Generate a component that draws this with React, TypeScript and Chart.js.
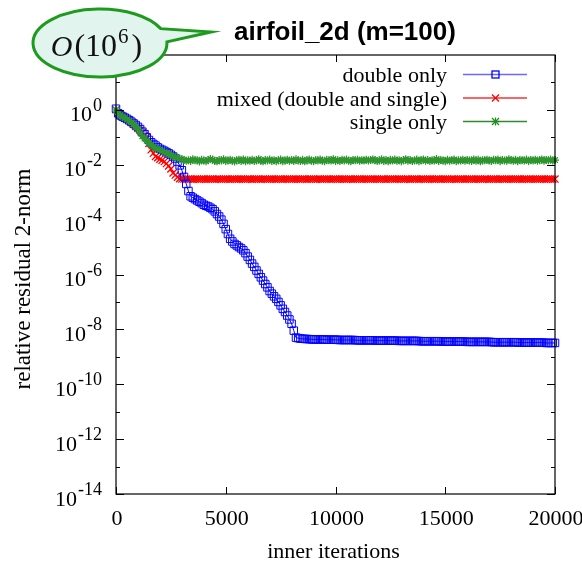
import React, { useEffect, useRef } from 'react';
import { Chart, registerables } from 'chart.js';

Chart.register(...registerables);

// ---------------- data ----------------
const iterations = [
  0, 100, 200, 300, 400, 500, 600, 700, 800, 900,
  1000, 1100, 1200, 1300, 1400, 1500, 1600, 1700, 1800, 1900,
  2000, 2100, 2200, 2300, 2400, 2500, 2600, 2700, 2800, 2900,
  3000, 3100, 3200, 3300, 3400, 3500, 3600, 3700, 3800, 3900,
  4000, 4100, 4200, 4300, 4400, 4500, 4600, 4700, 4800, 4900,
  5000, 5100, 5200, 5300, 5400, 5500, 5600, 5700, 5800, 5900,
  6000, 6100, 6200, 6300, 6400, 6500, 6600, 6700, 6800, 6900,
  7000, 7100, 7200, 7300, 7400, 7500, 7600, 7700, 7800, 7900,
  8000, 8100, 8200, 8300, 8400, 8500, 8600, 8700, 8800, 8900,
  9000, 9100, 9200, 9300, 9400, 9500, 9600, 9700, 9800, 9900,
  10000, 10100, 10200, 10300, 10400, 10500, 10600, 10700, 10800, 10900,
  11000, 11100, 11200, 11300, 11400, 11500, 11600, 11700, 11800, 11900,
  12000, 12100, 12200, 12300, 12400, 12500, 12600, 12700, 12800, 12900,
  13000, 13100, 13200, 13300, 13400, 13500, 13600, 13700, 13800, 13900,
  14000, 14100, 14200, 14300, 14400, 14500, 14600, 14700, 14800, 14900,
  15000, 15100, 15200, 15300, 15400, 15500, 15600, 15700, 15800, 15900,
  16000, 16100, 16200, 16300, 16400, 16500, 16600, 16700, 16800, 16900,
  17000, 17100, 17200, 17300, 17400, 17500, 17600, 17700, 17800, 17900,
  18000, 18100, 18200, 18300, 18400, 18500, 18600, 18700, 18800, 18900,
  19000, 19100, 19200, 19300, 19400, 19500, 19600, 19700, 19800, 19900,
  20000,
];

const doubleOnly = [
  1.1, 0.75, 0.63, 0.57, 0.52, 0.47, 0.42, 0.37, 0.32, 0.28,
  0.24, 0.20, 0.16, 0.13, 0.10, 0.080, 0.066, 0.057, 0.050, 0.043,
  0.038, 0.035, 0.032, 0.029, 0.026, 0.023, 0.020, 0.017, 0.013, 9.5e-3,
  6.3e-3, 3.6e-3, 2.0e-3, 1.1e-3, 7.1e-4, 6.3e-4, 5.6e-4, 5.0e-4, 4.5e-4, 4.0e-4,
  3.5e-4, 3.2e-4, 3.0e-4, 2.7e-4, 2.4e-4, 2.0e-4, 1.6e-4, 1.3e-4, 1.0e-4, 7.0e-5,
  4.5e-5, 3.0e-5, 2.0e-5, 1.6e-5, 1.3e-5, 1.15e-5, 1.0e-5, 8.9e-6, 7.6e-6, 6.0e-6,
  4.5e-6, 3.4e-6, 2.5e-6, 1.9e-6, 1.4e-6, 1.05e-6, 7.9e-7, 6.0e-7, 4.5e-7, 3.4e-7,
  2.5e-7, 2.0e-7, 1.6e-7, 1.3e-7, 1.0e-7, 7.5e-8, 5.6e-8, 4.3e-8, 3.2e-8, 2.3e-8,
  1.6e-8, 9.0e-9, 5.0e-9, 4.8e-9, 4.6e-9, 4.55e-9, 4.5e-9, 4.45e-9, 4.4e-9, 4.35e-9,
  4.3e-9, 4.3e-9, 4.3e-9, 4.3e-9, 4.3e-9, 4.25e-9, 4.2e-9, 4.2e-9, 4.2e-9, 4.2e-9,
  4.2e-9, 4.15e-9, 4.1e-9, 4.1e-9, 4.1e-9, 4.1e-9, 4.1e-9, 4.1e-9, 4.1e-9, 4.05e-9,
  4.0e-9, 4.0e-9, 4.0e-9, 4.0e-9, 4.0e-9, 4.0e-9, 4.0e-9, 4.0e-9, 3.95e-9, 3.9e-9,
  3.9e-9, 3.9e-9, 3.9e-9, 3.9e-9, 3.9e-9, 3.9e-9, 3.9e-9, 3.9e-9, 3.85e-9, 3.8e-9,
  3.8e-9, 3.8e-9, 3.8e-9, 3.8e-9, 3.8e-9, 3.8e-9, 3.8e-9, 3.8e-9, 3.75e-9, 3.7e-9,
  3.7e-9, 3.7e-9, 3.7e-9, 3.7e-9, 3.7e-9, 3.7e-9, 3.7e-9, 3.7e-9, 3.65e-9, 3.6e-9,
  3.6e-9, 3.6e-9, 3.6e-9, 3.6e-9, 3.6e-9, 3.6e-9, 3.6e-9, 3.6e-9, 3.6e-9, 3.55e-9,
  3.5e-9, 3.5e-9, 3.5e-9, 3.5e-9, 3.5e-9, 3.5e-9, 3.5e-9, 3.5e-9, 3.5e-9, 3.5e-9,
  3.5e-9, 3.45e-9, 3.4e-9, 3.4e-9, 3.4e-9, 3.4e-9, 3.4e-9, 3.4e-9, 3.4e-9, 3.4e-9,
  3.4e-9, 3.4e-9, 3.4e-9, 3.35e-9, 3.3e-9, 3.3e-9, 3.3e-9, 3.3e-9, 3.3e-9, 3.3e-9,
  3.3e-9, 3.3e-9, 3.3e-9, 3.3e-9, 3.3e-9, 3.25e-9, 3.2e-9, 3.2e-9, 3.2e-9, 3.2e-9,
  3.2e-9,
];

const mixedPrecision = [
  1.0, 0.75, 0.62, 0.56, 0.50, 0.45, 0.40, 0.35, 0.30, 0.25,
  0.21, 0.18, 0.15, 0.12, 0.10, 0.060, 0.035, 0.026, 0.020, 0.018,
  0.016, 0.0145, 0.013, 0.011, 9.0e-3, 7.0e-3, 5.0e-3, 4.2e-3, 3.5e-3, 3.1e-3,
  3.0e-3, 3.0e-3, 2.98e-3, 3.01e-3, 3.0e-3, 2.99e-3, 3.02e-3, 3.0e-3, 2.98e-3, 3.01e-3,
  3.0e-3, 2.99e-3, 3.01e-3, 3.0e-3, 3.02e-3, 2.98e-3, 3.0e-3, 3.01e-3, 2.99e-3, 3.0e-3,
  3.01e-3, 3.0e-3, 2.98e-3, 3.0e-3, 3.02e-3, 2.99e-3, 3.0e-3, 3.01e-3, 3.0e-3, 2.98e-3,
  3.0e-3, 3.01e-3, 2.99e-3, 3.0e-3, 3.02e-3, 3.0e-3, 2.98e-3, 3.01e-3, 3.0e-3, 2.99e-3,
  3.0e-3, 3.02e-3, 3.0e-3, 2.99e-3, 3.01e-3, 3.0e-3, 2.98e-3, 3.0e-3, 3.01e-3, 3.0e-3,
  2.99e-3, 3.0e-3, 3.02e-3, 3.0e-3, 2.98e-3, 3.01e-3, 3.0e-3, 2.99e-3, 3.0e-3, 3.01e-3,
  3.0e-3, 2.98e-3, 3.0e-3, 3.02e-3, 2.99e-3, 3.0e-3, 3.01e-3, 3.0e-3, 2.98e-3, 3.0e-3,
  3.01e-3, 2.99e-3, 3.0e-3, 3.02e-3, 3.0e-3, 2.98e-3, 3.01e-3, 3.0e-3, 2.99e-3, 3.0e-3,
  3.0e-3, 3.01e-3, 2.99e-3, 3.0e-3, 3.02e-3, 3.0e-3, 2.98e-3, 3.0e-3, 3.01e-3, 3.0e-3,
  2.99e-3, 3.0e-3, 3.01e-3, 2.98e-3, 3.0e-3, 3.02e-3, 3.0e-3, 2.99e-3, 3.01e-3, 3.0e-3,
  3.0e-3, 2.98e-3, 3.01e-3, 3.0e-3, 2.99e-3, 3.0e-3, 3.02e-3, 3.0e-3, 2.98e-3, 3.01e-3,
  3.0e-3, 2.99e-3, 3.0e-3, 3.01e-3, 3.0e-3, 2.98e-3, 3.0e-3, 3.02e-3, 2.99e-3, 3.0e-3,
  3.01e-3, 3.0e-3, 2.98e-3, 3.0e-3, 3.01e-3, 2.99e-3, 3.0e-3, 3.02e-3, 3.0e-3, 2.98e-3,
  3.0e-3, 3.01e-3, 3.0e-3, 2.99e-3, 3.0e-3, 3.02e-3, 3.0e-3, 2.98e-3, 3.01e-3, 3.0e-3,
  2.99e-3, 3.0e-3, 3.01e-3, 3.0e-3, 2.98e-3, 3.0e-3, 3.02e-3, 2.99e-3, 3.0e-3, 3.01e-3,
  3.0e-3, 2.98e-3, 3.0e-3, 3.01e-3, 3.0e-3, 2.99e-3, 3.02e-3, 3.0e-3, 2.98e-3, 3.0e-3,
  3.01e-3, 3.0e-3, 2.99e-3, 3.0e-3, 3.02e-3, 3.0e-3, 2.98e-3, 3.01e-3, 3.0e-3, 2.99e-3,
  3.0e-3,
];

const singleOnly = [
  1.0, 0.75, 0.63, 0.56, 0.50, 0.45, 0.40, 0.35, 0.30, 0.25,
  0.20, 0.15, 0.11, 0.090, 0.076, 0.063, 0.052, 0.046, 0.040, 0.038,
  0.035, 0.032, 0.029, 0.027, 0.024, 0.022, 0.020, 0.019, 0.018, 0.017,
  1.60e-2, 1.50e-2, 1.40e-2, 1.47e-2, 1.36e-2, 1.58e-2, 1.47e-2, 1.45e-2, 1.32e-2, 1.52e-2,
  1.42e-2, 1.35e-2, 1.50e-2, 1.62e-2, 1.54e-2, 1.38e-2, 1.33e-2, 1.49e-2, 1.43e-2, 1.58e-2,
  1.36e-2, 1.44e-2, 1.53e-2, 1.40e-2, 1.32e-2, 1.47e-2, 1.52e-2, 1.38e-2, 1.57e-2, 1.34e-2,
  1.46e-2, 1.41e-2, 1.53e-2, 1.37e-2, 1.44e-2, 1.60e-2, 1.40e-2, 1.33e-2, 1.50e-2, 1.43e-2,
  1.55e-2, 1.38e-2, 1.47e-2, 1.35e-2, 1.46e-2, 1.56e-2, 1.34e-2, 1.44e-2, 1.52e-2, 1.40e-2,
  1.49e-2, 1.36e-2, 1.58e-2, 1.43e-2, 1.38e-2, 1.51e-2, 1.33e-2, 1.46e-2, 1.54e-2, 1.41e-2,
  1.35e-2, 1.49e-2, 1.44e-2, 1.56e-2, 1.40e-2, 1.34e-2, 1.52e-2, 1.46e-2, 1.42e-2, 1.60e-2,
  1.38e-2, 1.47e-2, 1.36e-2, 1.51e-2, 1.44e-2, 1.55e-2, 1.41e-2, 1.35e-2, 1.49e-2, 1.46e-2,
  1.53e-2, 1.39e-2, 1.47e-2, 1.42e-2, 1.52e-2, 1.44e-2, 1.48e-2, 1.57e-2, 1.45e-2, 1.36e-2,
  1.44e-2, 1.58e-2, 1.38e-2, 1.48e-2, 1.33e-2, 1.52e-2, 1.42e-2, 1.55e-2, 1.39e-2, 1.47e-2,
  1.35e-2, 1.46e-2, 1.60e-2, 1.41e-2, 1.50e-2, 1.37e-2, 1.44e-2, 1.54e-2, 1.34e-2, 1.47e-2,
  1.56e-2, 1.39e-2, 1.49e-2, 1.36e-2, 1.46e-2, 1.42e-2, 1.61e-2, 1.38e-2, 1.50e-2, 1.44e-2,
  1.34e-2, 1.52e-2, 1.41e-2, 1.47e-2, 1.55e-2, 1.35e-2, 1.46e-2, 1.42e-2, 1.53e-2, 1.39e-2,
  1.49e-2, 1.44e-2, 1.36e-2, 1.57e-2, 1.41e-2, 1.51e-2, 1.33e-2, 1.47e-2, 1.45e-2, 1.53e-2,
  1.42e-2, 1.38e-2, 1.52e-2, 1.46e-2, 1.56e-2, 1.35e-2, 1.49e-2, 1.44e-2, 1.39e-2, 1.59e-2,
  1.47e-2, 1.41e-2, 1.53e-2, 1.34e-2, 1.50e-2, 1.45e-2, 1.42e-2, 1.55e-2, 1.38e-2, 1.48e-2,
  1.44e-2, 1.52e-2, 1.39e-2, 1.47e-2, 1.57e-2, 1.41e-2, 1.50e-2, 1.45e-2, 1.54e-2, 1.42e-2,
  1.48e-2,
];

const seriesLabels = ['double only', 'mixed (double and single)', 'single only'];
const seriesColors = ['#0000ff', '#ff0000', '#228b22'];
const legendLineColors = ['#6a6aff', '#ff3030', '#2e8b2e'];

const xTickValues = [0, 5000, 10000, 15000, 20000];
const xTickLabels = ['0', '5000', '10000', '15000', '20000'];
const yMajorExponents = [0, -2, -4, -6, -8, -10, -12, -14];
const yMajorLabels = ['0', '-2', '-4', '-6', '-8', '-10', '-12', '-14'];
const yMinorExponents = [1, -1, -3, -5, -7, -9, -11, -13];

const chartTitle = 'airfoil_2d (m=100)';
const xAxisTitle = 'inner iterations';
const yAxisTitle = 'relative residual 2-norm';
const calloutBase = '10';
const calloutExp = '6';

const SERIF = '"Liberation Serif", "Times New Roman", Times, serif';

function toPoints(ys: number[]) {
  return iterations.map((x, i) => ({ x, y: ys[i] }));
}

const decorPlugin = {
  id: 'decor',
  afterDraw(chart: any) {
    const { ctx, chartArea: a, scales } = chart;
    const xs = scales.x;
    const ys = scales.y;
    ctx.save();

    // frame
    ctx.strokeStyle = '#000';
    ctx.lineWidth = 1.2;
    ctx.strokeRect(a.left, a.top, a.right - a.left, a.bottom - a.top);

    const seg = (x1: number, y1: number, x2: number, y2: number) => {
      ctx.beginPath();
      ctx.moveTo(x1, y1);
      ctx.lineTo(x2, y2);
      ctx.stroke();
    };

    // x ticks (bottom & top, inward)
    ctx.lineWidth = 1;
    xTickValues.forEach((v) => {
      const px = Math.round(xs.getPixelForValue(v)) + 0.5;
      seg(px, a.bottom, px, a.bottom - 7);
      seg(px, a.top, px, a.top + 7);
    });
    // y ticks
    yMajorExponents.forEach((e) => {
      const py = Math.round(ys.getPixelForValue(Math.pow(10, e))) + 0.5;
      seg(a.left, py, a.left + 8, py);
      seg(a.right, py, a.right - 8, py);
    });
    yMinorExponents.forEach((e) => {
      const py = Math.round(ys.getPixelForValue(Math.pow(10, e))) + 0.5;
      seg(a.left, py, a.left + 4, py);
      seg(a.right, py, a.right - 4, py);
    });

    ctx.fillStyle = '#000';
    // x tick labels
    ctx.font = `22px ${SERIF}`;
    ctx.textAlign = 'center';
    ctx.textBaseline = 'alphabetic';
    xTickValues.forEach((v, i) => {
      const px = xs.getPixelForValue(v);
      ctx.fillText(xTickLabels[i], px + 1, a.bottom + 31);
    });

    // y tick labels 10^e
    yMajorExponents.forEach((e, i) => {
      const py = ys.getPixelForValue(Math.pow(10, e));
      ctx.font = `18px ${SERIF}`;
      const supW = ctx.measureText(yMajorLabels[i]).width;
      ctx.font = `22px ${SERIF}`;
      const baseW = ctx.measureText('10').width;
      const right = 102;
      ctx.textAlign = 'left';
      ctx.fillText('10', right - supW - baseW - 1, py + 11.5);
      ctx.font = `18px ${SERIF}`;
      ctx.fillText(yMajorLabels[i], right - supW, py + 1);
    });

    // axis titles
    ctx.font = `22px ${SERIF}`;
    ctx.textAlign = 'center';
    ctx.fillText(xAxisTitle, (a.left + a.right) / 2 - 2, 558);
    ctx.save();
    ctx.translate(30, 279);
    ctx.rotate(-Math.PI / 2);
    ctx.font = `23px ${SERIF}`;
    ctx.fillText(yAxisTitle, 0, 0);
    ctx.restore();

    // title
    ctx.font = 'bold 26px "Liberation Sans", Arial, Helvetica, sans-serif';
    ctx.textAlign = 'center';
    ctx.fillText(chartTitle, 345, 40);

    // legend
    const rowY = [74, 97.5, 121];
    ctx.font = `22px ${SERIF}`;
    ctx.textAlign = 'right';
    seriesLabels.forEach((lab, i) => {
      const y = rowY[i];
      ctx.fillStyle = '#000';
      ctx.fillText(lab, 447, y + 8);
      ctx.strokeStyle = legendLineColors[i];
      ctx.lineWidth = i === 0 ? 1.6 : 1.3;
      seg(463, y + 0.5, 527, y + 0.5);
      ctx.strokeStyle = seriesColors[i];
      ctx.lineWidth = 1.3;
      const mx = 495.5, my = y + 0.5, r = 3.5;
      if (i === 0) {
        ctx.strokeRect(mx - r, my - r, 2 * r, 2 * r);
      } else if (i === 1) {
        seg(mx - r, my - r, mx + r, my + r);
        seg(mx - r, my + r, mx + r, my - r);
      } else {
        seg(mx - r, my - r, mx + r, my + r);
        seg(mx - r, my + r, mx + r, my - r);
        seg(mx - r - 0.5, my, mx + r + 0.5, my);
        seg(mx, my - r - 0.5, mx, my + r + 0.5);
      }
    });

    // callout bubble
    const cx = 100, cy = 43, rx = 67, ry = 34;
    const t1 = (-25 * Math.PI) / 180;
    const t2 = (-2 * Math.PI) / 180;
    ctx.beginPath();
    ctx.ellipse(cx, cy, rx, ry, 0, t2, t1 + Math.PI * 2, false);
    ctx.lineTo(211, 32);
    ctx.closePath();
    ctx.fillStyle = '#e1f5ee';
    ctx.fill();
    ctx.strokeStyle = '#1e9b1e';
    ctx.lineWidth = 3;
    ctx.lineJoin = 'miter';
    ctx.stroke();

    // callout text O(10^6)
    ctx.fillStyle = '#111';
    ctx.textAlign = 'left';
    const fO = `italic 30px ${SERIF}`;
    const fN = `32px ${SERIF}`;
    const fS = `21px ${SERIF}`;
    ctx.font = fO; const wO = ctx.measureText('O').width;
    ctx.font = fN; const wP = ctx.measureText('(').width;
    const wB = ctx.measureText(calloutBase).width;
    const wQ = ctx.measureText(')').width;
    ctx.font = fS; const wS = ctx.measureText(calloutExp).width;
    const total = wO + 2 + wP + wB + 1 + wS + 3 + wQ;
    let x = 96.5 - total / 2;
    const base = 56;
    ctx.font = fO; ctx.fillText('O', x, base); x += wO + 2;
    ctx.font = fN; ctx.fillText('(', x, base); x += wP;
    ctx.fillText(calloutBase, x, base); x += wB + 1;
    ctx.font = fS; ctx.fillText(calloutExp, x, base - 13); x += wS + 3;
    ctx.font = fN; ctx.fillText(')', x, base);

    ctx.restore();
  },
};

export default function App() {
  const ref = useRef<HTMLCanvasElement | null>(null);

  useEffect(() => {
    if (!ref.current) return;
    const chart = new Chart(ref.current, {
      type: 'line',
      data: {
        datasets: [
          {
            label: seriesLabels[2],
            data: toPoints(singleOnly),
            borderColor: seriesColors[2],
            borderWidth: 1,
            pointStyle: 'star',
            pointRadius: 4,
            pointBorderColor: '#2f952f',
            pointBackgroundColor: '#2f952f',
            pointBorderWidth: 1.3,
            order: 0,
            clip: false,
          },
          {
            label: seriesLabels[0],
            data: toPoints(doubleOnly),
            borderColor: seriesColors[0],
            borderWidth: 1,
            pointStyle: 'rect',
            pointRadius: 5.3,
            pointBorderColor: seriesColors[0],
            pointBackgroundColor: 'rgba(0,0,0,0)',
            pointBorderWidth: 1,
            order: 1,
            clip: false,
          },
          {
            label: seriesLabels[1],
            data: toPoints(mixedPrecision),
            borderColor: seriesColors[1],
            borderWidth: 1,
            pointStyle: 'crossRot',
            pointRadius: 5,
            pointBorderColor: seriesColors[1],
            pointBackgroundColor: seriesColors[1],
            pointBorderWidth: 1.3,
            order: 2,
            clip: false,
          },
        ] as any,
      },
      options: {
        animation: false,
        responsive: false,
        devicePixelRatio: 1,
        layout: { padding: { left: 116, right: 27, top: 55, bottom: 72 } },
        elements: { line: { tension: 0 } },
        plugins: {
          legend: { display: false },
          tooltip: { enabled: false },
          title: { display: false },
        },
        scales: {
          x: { type: 'linear', min: 0, max: 20000, display: false },
          y: { type: 'logarithmic', min: 1e-14, max: 1e2, display: false },
        },
      },
      plugins: [decorPlugin],
    });
    return () => chart.destroy();
  }, []);

  return (
    <div style={{ position: 'fixed', left: 0, top: 0, width: 582, height: 566, background: '#fff' }}>
      <canvas ref={ref} width={582} height={566} style={{ width: 582, height: 566, display: 'block' }} />
    </div>
  );
}
